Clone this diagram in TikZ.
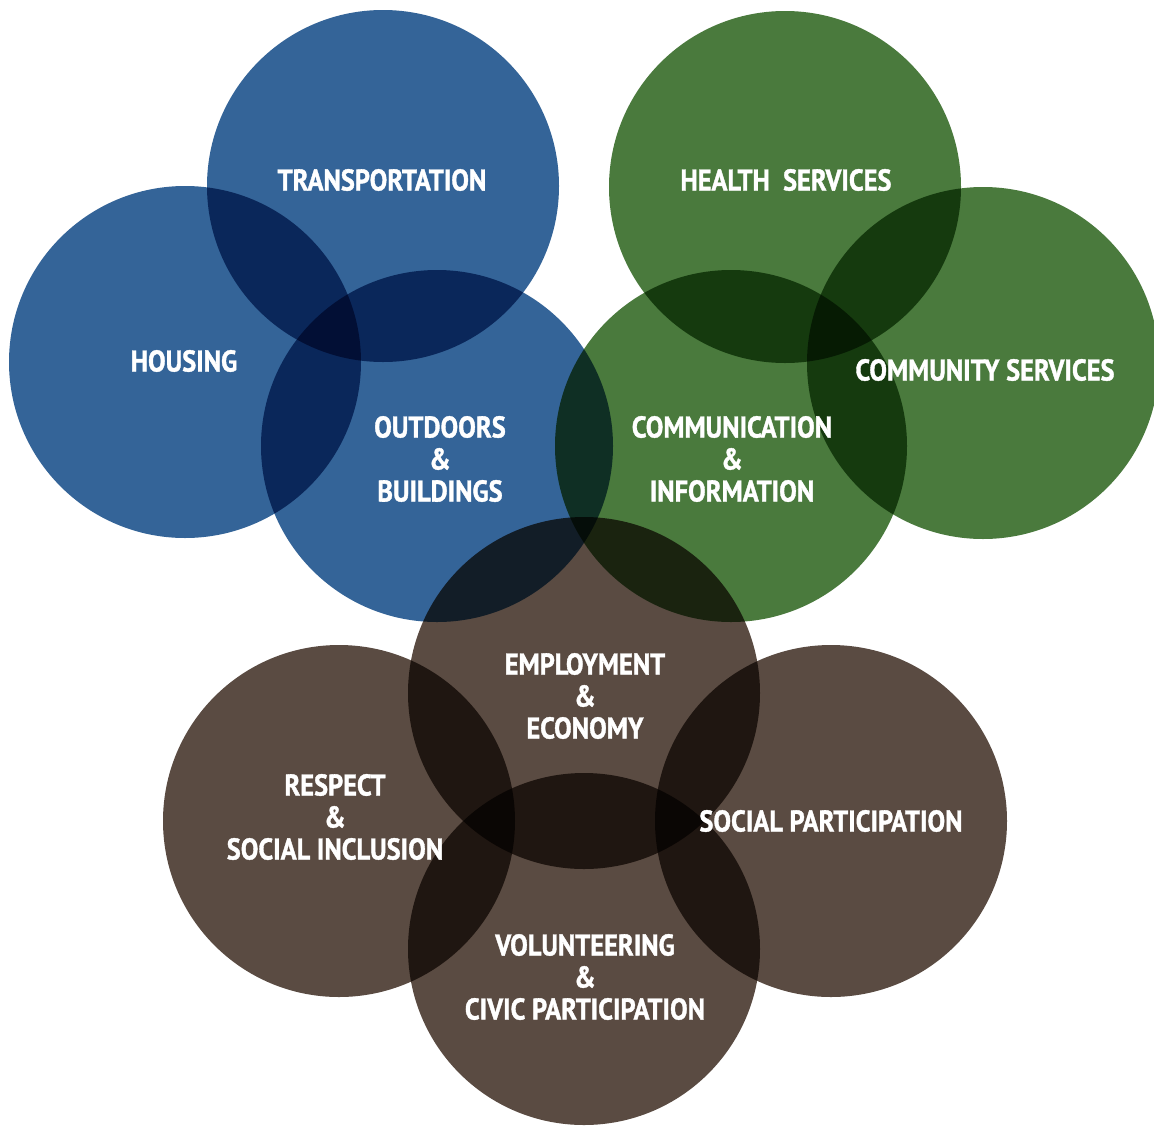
\documentclass[tikz,border=0pt]{standalone}
\usepackage{fontspec}
\newfontfamily\condfont[FakeStretch=0.88,BoldFeatures={FakeBold=1.2}]{PT Sans}
\definecolor{cblue}{RGB}{52,100,152}
\definecolor{cgreen}{RGB}{74,122,61}
\definecolor{cbrown}{RGB}{90,75,66}
\tikzset{
  ring/.style={blend mode=multiply},
  lbl/.style={text=white, align=center, font=\condfont\bfseries\fontsize{30}{32}\selectfont, inner sep=0pt}
}
\begin{document}
\begin{tikzpicture}[x=1pt,y=-1pt]
\useasboundingbox (0,0) rectangle (1154,1125);
\fill[white] (0,0) rectangle (1154,1125);
% blue
\fill[cblue,ring] (383,186) circle[radius=176pt];
\fill[cblue,ring] (185,362) circle[radius=176pt];
\fill[cblue,ring] (437,446) circle[radius=176pt];
% green
\fill[cgreen,ring] (785,187) circle[radius=176pt];
\fill[cgreen,ring] (983,363) circle[radius=176pt];
\fill[cgreen,ring] (731,446) circle[radius=176pt];
% brown
\fill[cbrown,ring] (584,693) circle[radius=176pt];
\fill[cbrown,ring] (339,821) circle[radius=176pt];
\fill[cbrown,ring] (831,821) circle[radius=176pt];
\fill[cbrown,ring] (584,949) circle[radius=176pt];
% labels
\node[lbl] (trans) at (382,180) {TRANSPORTATION};
\node[lbl] (hous) at (184,361) {HOUSING};
\node[lbl] (outd) at (440,459) {OUTDOORS\\\&\\BUILDINGS};
\node[lbl] (health) at (786,180) {HEALTH\ \ SERVICES};
\node[lbl] (comm) at (985,370) {COMMUNITY SERVICES};
\node[lbl] (info) at (732,459) {COMMUNICATION\\\&\\INFORMATION};
\node[lbl] (empl) at (585,696) {EMPLOYMENT\\\&\\ECONOMY};
\node[lbl] (resp) at (335,817) {RESPECT\\\&\\SOCIAL INCLUSION};
\node[lbl] (soc) at (831,821) {SOCIAL PARTICIPATION};
\node[lbl] (vol) at (585,977) {VOLUNTEERING\\\&\\CIVIC PARTICIPATION};
\end{tikzpicture}
\end{document}
